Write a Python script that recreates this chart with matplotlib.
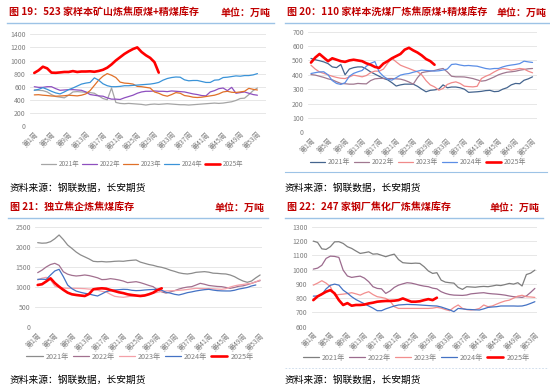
import matplotlib
matplotlib.use("Agg")
import matplotlib.pyplot as plt
from matplotlib.lines import Line2D

plt.rcParams['font.family'] = ['Noto Sans CJK SC', 'DejaVu Sans']

W, H = 550, 391

years = ["2021年", "2022年", "2023年", "2024年", "2025年"]
week_ticks = list(range(1, 54, 4))
week_labels = ["第%d周" % w for w in week_ticks]

# 图19 523家样本矿山
mine_2021 = [550, 545, 540, 520, 480, 450, 440, 430, 470, 520, 525, 520, 515, 510, 500, 460, 420, 400, 580, 360,
             345, 340, 345, 340, 335, 330, 320, 330, 335, 330, 335, 340, 335, 330, 325, 325, 320, 325, 330, 335,
             340, 345, 350, 345, 350, 360, 370, 390, 420, 425, 480, 540, 580]
mine_2022 = [600, 590, 590, 600, 600, 570, 545, 550, 555, 555, 550, 545, 520, 480, 470, 460, 455, 430, 410, 410,
             405, 430, 450, 470, 500, 520, 530, 530, 535, 530, 530, 525, 535, 530, 525, 520, 505, 490, 480, 465,
             460, 520, 540, 570, 580, 540, 590, 500, 510, 520, 500, 480, 470]
mine_2023 = [475, 478, 470, 465, 458, 455, 458, 462, 470, 465, 460, 470, 490, 540, 620, 700, 760, 800, 775, 740,
             670, 655, 650, 640, 605, 600, 590, 580, 520, 500, 470, 455, 480, 510, 500, 465, 455, 440, 435, 440,
             450, 460, 470, 490, 520, 530, 515, 512, 520, 530, 575, 560, 550]
mine_2024 = [545, 560, 585, 560, 530, 505, 490, 520, 555, 580, 610, 640, 655, 665, 735, 700, 645, 615, 600, 600,
             605, 615, 615, 620, 625, 630, 635, 640, 650, 665, 700, 725, 740, 748, 745, 705, 690, 695, 695, 680,
             665, 665, 700, 705, 740, 745, 755, 765, 760, 770, 770, 780, 800]
mine_2025 = [810, 850, 905, 880, 815, 812, 818, 825, 825, 838, 825, 832, 832, 835, 828, 840, 858, 890, 940, 1000,
             1050, 1100, 1140, 1175, 1200, 1130, 1080, 1040, 975, 815]

# 图20 110家样本洗煤厂
wash_2021 = [514, 505, 498, 490, 478, 455, 450, 472, 400, 440, 450, 455, 455, 440, 420, 405, 390, 375, 365, 345,
             322, 330, 335, 335, 335, 320, 300, 282, 292, 295, 300, 330, 310, 315, 315, 310, 300, 278, 280, 282,
             285, 290, 292, 283, 285, 300, 310, 330, 340, 338, 362, 372, 386]
wash_2022 = [402, 398, 390, 382, 372, 365, 352, 340, 338, 335, 335, 340, 338, 337, 360, 372, 375, 375, 374, 374,
             372, 370, 362, 350, 335, 380, 415, 421, 425, 430, 438, 444, 420, 390, 386, 386, 385, 380, 374, 365,
             356, 360, 372, 385, 400, 410, 418, 421, 425, 432, 437, 442, 444]
wash_2023 = [467, 440, 420, 410, 400, 390, 382, 376, 374, 385, 398, 392, 386, 395, 415, 426, 425, 440, 480, 514,
             490, 467, 455, 444, 432, 421, 400, 360, 330, 316, 293, 305, 333, 345, 351, 340, 321, 318, 316, 320,
             374, 390, 402, 420, 435, 444, 440, 433, 438, 444, 440, 425, 414]
wash_2024 = [409, 415, 420, 421, 400, 360, 340, 333, 345, 390, 410, 421, 430, 460, 480, 492, 420, 390, 370, 363,
             380, 398, 405, 409, 418, 425, 433, 430, 428, 426, 428, 433, 440, 472, 475, 468, 463, 465, 462, 460,
             452, 444, 440, 444, 444, 455, 463, 468, 472, 478, 495, 490, 486]
wash_2025 = [485, 520, 545, 520, 495, 515, 505, 495, 490, 500, 505, 500, 495, 480, 470, 455, 448, 478, 495, 515,
             530, 545, 575, 588, 570, 555, 535, 510, 495, 470]

# 图21 独立焦企
coke_2021 = [2103, 2090, 2095, 2128, 2200, 2294, 2180, 2045, 1960, 1870, 1800, 1750, 1700, 1640, 1630, 1635, 1625,
             1630, 1640, 1645, 1640, 1655, 1665, 1673, 1620, 1590, 1560, 1540, 1510, 1490, 1460, 1420, 1390, 1355,
             1335, 1325, 1340, 1366, 1375, 1383, 1370, 1345, 1340, 1330, 1325, 1300, 1259, 1200, 1150, 1118, 1150,
             1230, 1300]
coke_2022 = [1358, 1420, 1500, 1560, 1590, 1540, 1380, 1320, 1290, 1275, 1285, 1300, 1285, 1259, 1230, 1185, 1190,
             1209, 1195, 1176, 1150, 1110, 1122, 1134, 1110, 1076, 1040, 1010, 930, 880, 850, 880, 910, 950, 980,
             1000, 1010, 1050, 1093, 1070, 1040, 1027, 1015, 1010, 990, 969, 990, 1020, 1030, 1060, 1093, 1130, 1159]
coke_2023 = [1176, 1220, 1242, 1180, 1027, 990, 975, 969, 970, 968, 965, 960, 950, 944, 920, 895, 880, 820, 770,
             755, 745, 760, 775, 780, 790, 803, 825, 845, 870, 895, 905, 908, 911, 920, 927, 940, 955, 969, 965, 962,
             961, 955, 950, 944, 960, 1000, 1030, 1052, 1065, 1080, 1093, 1130, 1176]
coke_2024 = [1192, 1195, 1190, 1300, 1400, 1441, 1259, 1050, 960, 900, 870, 845, 828, 800, 778, 830, 886, 910, 927,
             935, 944, 940, 920, 911, 915, 927, 935, 940, 944, 920, 870, 850, 820, 803, 830, 861, 880, 903, 920, 935,
             944, 925, 911, 905, 903, 903, 920, 950, 969, 990, 1027, 1052]
coke_2025 = [1052, 1070, 1140, 1217, 1100, 1010, 930, 861, 820, 803, 790, 778, 828, 944, 960, 969, 960, 927, 900,
             870, 850, 820, 803, 790, 778, 790, 820, 860, 927, 969]

# 图22 247家钢厂焦化厂
steel_2021 = [1199, 1190, 1145, 1141, 1160, 1194, 1195, 1183, 1160, 1148, 1130, 1113, 1118, 1124, 1108, 1110, 1100,
              1090, 1100, 1108, 1070, 1048, 1045, 1043, 1045, 1043, 1020, 990, 973, 978, 926, 912, 908, 905, 875,
              861, 880, 878, 876, 880, 882, 880, 885, 891, 888, 895, 903, 898, 908, 885, 965, 975, 996]
steel_2022 = [1003, 1010, 1030, 1078, 1094, 1092, 1085, 996, 955, 945, 950, 954, 940, 915, 880, 868, 865, 833, 850,
              875, 891, 900, 908, 905, 898, 890, 884, 880, 870, 865, 845, 833, 825, 821, 820, 819, 822, 830, 833, 836,
              838, 833, 830, 828, 825, 821, 815, 810, 808, 805, 815, 840, 868]
steel_2023 = [891, 905, 922, 905, 880, 821, 825, 828, 832, 838, 830, 821, 835, 845, 825, 810, 805, 798, 780, 740,
              728, 728, 728, 728, 728, 728, 728, 728, 730, 735, 730, 720, 712, 735, 752, 728, 720, 717, 720, 728,
              752, 740, 745, 758, 770, 780, 786, 800, 814, 820, 810, 808, 805]
steel_2024 = [814, 815, 825, 865, 890, 898, 891, 856, 835, 810, 790, 775, 760, 745, 730, 712, 712, 725, 735, 745,
              752, 754, 756, 755, 754, 752, 750, 748, 746, 745, 738, 728, 718, 705, 728, 725, 721, 720, 718, 717,
              725, 735, 738, 740, 745, 745, 745, 745, 744, 745, 752, 763, 775]
steel_2025 = [786, 812, 828, 845, 856, 833, 786, 752, 765, 747, 752, 752, 755, 763, 768, 775, 778, 780, 780, 782,
              786, 798, 786, 775, 775, 778, 786, 793, 786, 803]

RED = "#ff0000"
TITLE_RED = "#c00000"
TXT = "#7f7f7f"

fig = plt.figure(figsize=(W / 100, H / 100), dpi=100)


def px_axes(left, top, right, bottom):
    return fig.add_axes([left / W, 1 - bottom / H, (right - left) / W, (bottom - top) / H])


def draw_panel(ax, series, colors, xlim, ylim, ystep):
    handles = []
    for vals, c in zip(series, colors):
        lw = 1.9 if c == RED else 0.9
        ln, = ax.plot(range(1, len(vals) + 1), vals, color=c, lw=lw, solid_capstyle='round')
        handles.append(ln)
    ax.set_xlim(*xlim)
    ax.set_ylim(*ylim)
    ax.set_yticks(range(ylim[0], ylim[1] + 1, ystep))
    ax.set_xticks(week_ticks)
    ax.set_xticklabels(week_labels, rotation=45, ha='right', rotation_mode='anchor')
    ax.tick_params(axis='both', length=0, labelsize=5, colors=TXT)
    ax.tick_params(axis='x', pad=3)
    ax.tick_params(axis='y', pad=3)
    ax.grid(axis='y', color='#e3e3e3', lw=0.6)
    ax.set_axisbelow(True)
    for s in ax.spines.values():
        s.set_visible(False)
    return handles


def legend(handles, cx, cy, fs, hl, cs):
    fig.legend(handles, years, loc='center', bbox_to_anchor=(cx / W, 1 - cy / H), ncol=5, frameon=False,
               fontsize=fs, handlelength=hl, columnspacing=cs, handletextpad=0.4, labelcolor=TXT)


def header(x0, x1, y, title):
    fig.text(x0 / W, 1 - y / H, title, color=TITLE_RED, fontsize=7.2, fontweight='bold', va='center', ha='left')
    fig.text(x1 / W, 1 - y / H, "单位：万吨", color=TITLE_RED, fontsize=7.2, fontweight='bold', va='center', ha='right')
    fig.add_artist(Line2D([x0 / W - 0.003, x1 / W + 0.005], [1 - (y + 10) / H] * 2, color='#9dc3e6', lw=1.0))


def source(x, y):
    fig.text(x / W, 1 - y / H, "资料来源：钢联数据，长安期货", color='black', fontsize=7, va='center', ha='left')


# 图19
ax1 = px_axes(30, 34.3, 266, 126)
h = draw_panel(ax1, [mine_2021, mine_2022, mine_2023, mine_2024, mine_2025],
               ["#a5a5a5", "#8e4fbf", "#e07028", "#3a93d8", RED], (0, 55), (0, 1400), 200)
legend(h, 142, 164, 4.6, 2.3, 0.5)
header(9, 271, 12.5, "图 19：523 家样本矿山炼焦原煤+精煤库存")
source(10, 188)

# 图20
ax2 = px_axes(308, 31.7, 537, 132.3)
h = draw_panel(ax2, [wash_2021, wash_2022, wash_2023, wash_2024, wash_2025],
               ["#44648e", "#a07890", "#f08a8a", "#5b8ee6", RED], (0.3, 54.05), (0, 700), 100)
legend(h, 418, 162, 5.0, 2.2, 0.5)
header(287, 547, 12.5, "图 20：110 家样本洗煤厂炼焦原煤+精煤库存")
fig.add_artist(Line2D([285 / W, 547 / W], [1 - 172 / H] * 2, color='#9dc3e6', lw=0.8))
source(285, 188)

# 图21
ax3 = px_axes(35, 226.7, 262, 327.3)
h = draw_panel(ax3, [coke_2021, coke_2022, coke_2023, coke_2024, coke_2025],
               ["#8c8c8c", "#a2708f", "#f4a0a8", "#4472c4", RED], (0.37, 53.44), (0, 2500), 500)
legend(h, 140, 357, 5.2, 2.3, 0.45)
header(10, 265, 208, "图 21：独立焦企炼焦煤库存")
source(10, 380)

# 图22
ax4 = px_axes(311.7, 226.7, 537, 326.7)
h = draw_panel(ax4, [steel_2021, steel_2022, steel_2023, steel_2024, steel_2025],
               ["#7f7f7f", "#9c6b8e", "#f28e8e", "#4472c4", RED], (0.62, 53.5), (600, 1300), 100)
legend(h, 416, 358, 5.2, 2.3, 0.45)
header(287, 540, 208, "图 22：247 家钢厂焦化厂炼焦煤库存")
fig.add_artist(Line2D([285 / W, 547 / W], [1 - 368 / H] * 2, color='#c9d9ea', lw=0.6, ls=(0, (2, 2))))
source(285, 380)

fig.savefig("out.png", dpi=100)
